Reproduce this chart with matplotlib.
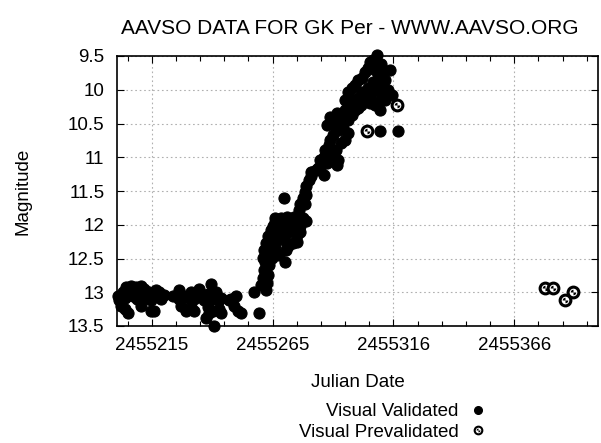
import matplotlib
matplotlib.use("Agg")
import matplotlib.pyplot as plt
from matplotlib.lines import Line2D
from matplotlib.ticker import FixedLocator
from matplotlib.path import Path

plt.rcParams['font.family'] = ['Liberation Sans', 'DejaVu Sans']

JD0 = 2455200.0

# Visual Validated observations: day offset from JD0, magnitude
val_days = [
    4.7, 6.8, 8.8, 10.9, 12.2, 26.7, 35.0, 40.0, 17.2,
    1.4, 1.8, 3.4, 4.3, 5.9, 7.6, 9.3, 10.9, 13.0, 14.25, 15.1, 16.3, 18.4, 19.2, 20.5,
    24.2, 26.7, 28.8, 30.9, 31.7, 33.0, 35.9, 37.1, 38.8, 40.9, 42.1, 43.3, 44.2, 48.3, 50.4,
    2.6, 4.3, 5.5, 10.9, 15.1, 16.3, 27.6, 29.6, 31.7, 33.0, 38.8, 40.9, 43.3, 44.2, 49.6,
    51.2, 52.5, 47.5, 37.9, 41.3, 39.5,
    57.9, 60.0, 60.8, 61.6, 62.05, 62.5, 63.3, 62.9, 63.7, 64.1, 61.6,
    62.05, 62.9, 63.7, 64.5, 64.95, 65.8, 66.6, 64.1, 65.4, 67.0, 67.9, 68.7, 69.5, 70.4,
    71.2, 72.0, 72.9, 68.3, 70.8,
    66.6, 69.1, 71.6, 73.3, 74.9, 76.6, 78.3, 79.5, 77.4, 75.4, 73.3, 75.8, 77.4, 74.1,
    72.4, 75.8, 69.1, 67.45, 70.4,
    70.4,
    77.4, 78.3, 79.1, 79.9, 80.8, 81.6, 79.1, 76.6, 82.4, 83.7, 84.9, 79.9, 81.6, 85.7, 87.0,
    85.7, 87.0, 87.8, 89.1, 89.9, 91.1, 92.4, 94.1, 93.2, 92.8, 96.1, 97.4, 95.3, 89.5, 88.6, 90.5,
    88.6, 89.9, 91.1, 92.8, 94.1, 96.1, 98.2, 100.3, 94.9, 97.4, 99.0, 101.5, 92.0, 93.5,
    96.1, 97.4, 99.0, 100.3, 101.5, 103.2, 104.4, 105.7, 106.5, 107.8, 109.4, 111.1, 111.9,
    108.6, 109.8, 107.4, 105.7, 103.2, 101.5, 104.4, 106.5, 108.6, 110.7, 112.8, 114.0,
    112.8, 110.7, 108.6, 106.5, 114.8, 111.9, 115.7, 110.7, 102.4, 100.3,
    110.7, 118.2,
]
val_mags = [
    12.92, 12.90, 12.92, 12.90, 12.95, 12.97, 12.95, 12.88, 12.97,
    13.05, 13.12, 13.00, 13.08, 13.02, 13.05, 13.10, 13.02, 13.08, 13.00, 13.12, 13.05, 13.00, 13.10, 13.04,
    13.05, 13.10, 13.05, 13.08, 13.00, 13.10, 13.05, 13.12, 13.02, 13.08, 13.00, 13.12, 13.08, 13.10, 13.05,
    13.20, 13.25, 13.30, 13.20, 13.28, 13.28, 13.20, 13.28, 13.22, 13.28, 13.22, 13.28, 13.25, 13.30, 13.20,
    13.28, 13.30, 13.11, 13.38, 13.50, 13.30,
    13.00, 13.30, 12.89, 12.79, 12.67, 12.55, 12.86, 12.97, 12.74, 12.60, 12.49,
    12.37, 12.27, 12.17, 12.23, 12.08, 12.02, 11.96, 12.40, 12.49, 12.33, 12.20, 12.08, 12.03, 12.23,
    12.37, 12.12, 12.05, 12.45, 12.55,
    11.90, 11.90, 11.88, 11.92, 11.88, 11.92, 11.90, 11.95, 12.02, 12.05, 12.08, 12.15, 12.10, 12.27,
    12.31, 12.25, 12.15, 12.10, 12.00,
    11.60,
    11.69, 11.60, 11.51, 11.43, 11.34, 11.28, 11.69, 11.78, 11.22, 11.19, 11.16, 11.56, 11.22, 11.19, 11.26,
    11.04, 11.00, 10.89, 10.82, 10.74, 10.67, 10.89, 10.79, 11.04, 11.11, 10.74, 10.64, 10.57, 10.97, 11.08, 10.90,
    10.52, 10.40, 10.45, 10.34, 10.42, 10.30, 10.23, 10.15, 10.52, 10.45, 10.37, 10.27, 10.57, 10.60,
    10.15, 10.03, 9.97, 9.93, 9.86, 9.83, 9.74, 9.68, 9.59, 9.56, 9.49, 9.62, 9.71,
    9.71, 9.83, 9.89, 9.97, 10.03, 10.12, 10.12, 10.08, 10.00, 9.93, 9.86, 10.00,
    10.15, 10.15, 10.23, 10.20, 9.71, 10.08, 10.08, 10.30, 10.23, 10.30,
    10.61, 10.61,
]

# Visual Prevalidated observations
pre_days = [41.3, 105.3, 117.7, 179.3, 182.6, 187.6, 190.9]
pre_mags = [13.08, 10.61, 10.23, 12.93, 12.93, 13.11, 13.00]

# Axis ticks
x_tick_days = [15.5, 65.8, 116.1, 166.4]
x_tick_labels = ["2455215", "2455265", "2455316", "2455366"]
y_ticks = [9.5, 10, 10.5, 11, 11.5, 12, 12.5, 13, 13.5]
y_tick_labels = ["9.5", "10", "10.5", "11", "11.5", "12", "12.5", "13", "13.5"]

W, H = 601, 443
fig = plt.figure(figsize=(W / 100, H / 100), dpi=100)
ax = fig.add_axes([117 / W, 1 - 326 / H, (598 - 117) / W, (326 - 56) / H])

xs = [JD0 + d for d in val_days]
xp = [JD0 + d for d in pre_days]

# pattern for prevalidated marker: two opposite quadrant wedges
quad = Path.make_compound_path(Path.wedge(90, 180), Path.wedge(270, 360))

ax.scatter(xp, pre_mags, s=60, c='white', edgecolors='black', linewidths=2.2,
           zorder=2.5, clip_on=False)
ax.scatter(xp, pre_mags, s=16, marker=quad, c='black', linewidths=0,
           zorder=2.6, clip_on=False)
ax.scatter(xs, val_mags, s=64, c='black', edgecolors='black', linewidths=0.8,
           zorder=3, clip_on=False)

ax.set_xlim(JD0 + 1.0, JD0 + 201.3)
ax.set_ylim(13.5, 9.5)

ax.xaxis.set_major_locator(FixedLocator([JD0 + d for d in x_tick_days]))
ax.set_xticklabels(x_tick_labels)
ax.xaxis.set_minor_locator(FixedLocator([JD0 + x_tick_days[0] + k * 10.06 - 10.06 for k in range(0, 21)]))
ax.set_yticks(y_ticks)
ax.set_yticklabels(y_tick_labels)

ax.tick_params(which='both', direction='in', top=True, right=True, labelsize=13.5,
               colors='black')
ax.tick_params(which='major', length=5, width=0.8, pad=8)
ax.tick_params(which='minor', length=3.5, width=0.8)
ax.tick_params(axis='y', pad=9)

ax.grid(True, which='major', color='#b0b0b0', linestyle=(0, (1.5, 2.5)), linewidth=0.8)
ax.set_axisbelow(True)
for sp in ax.spines.values():
    sp.set_linewidth(1.2)
    sp.set_color('black')

ax.set_xlabel("Julian Date", fontsize=13.5, labelpad=14)
ax.set_ylabel("Magnitude", fontsize=13.5, labelpad=26)
fig.text(350 / W, 1 - 28 / H, "AAVSO DATA FOR GK Per - WWW.AAVSO.ORG",
         ha='center', va='center', fontsize=15)

# legend below the plot
h1 = Line2D([], [], linestyle='none', marker='o', markersize=5.5,
            markerfacecolor='black', markeredgecolor='black')
h2 = Line2D([], [], linestyle='none', marker='o', markersize=5.5,
            markerfacecolor='white', markeredgecolor='black', markeredgewidth=1.5)
h3 = Line2D([], [], linestyle='none', marker=quad, markersize=2.8,
            markerfacecolor='black', markeredgewidth=0)
fig.legend([h1, (h2, h3)], ["Visual Validated", "Visual Prevalidated"],
           loc='upper right', bbox_to_anchor=(487 / W, 1 - 403 / H),
           markerfirst=False, frameon=False, fontsize=13.5,
           handlelength=1.0, handletextpad=0.5, labelspacing=0.2,
           borderpad=0, borderaxespad=0)

fig.savefig("out.png", dpi=100)
